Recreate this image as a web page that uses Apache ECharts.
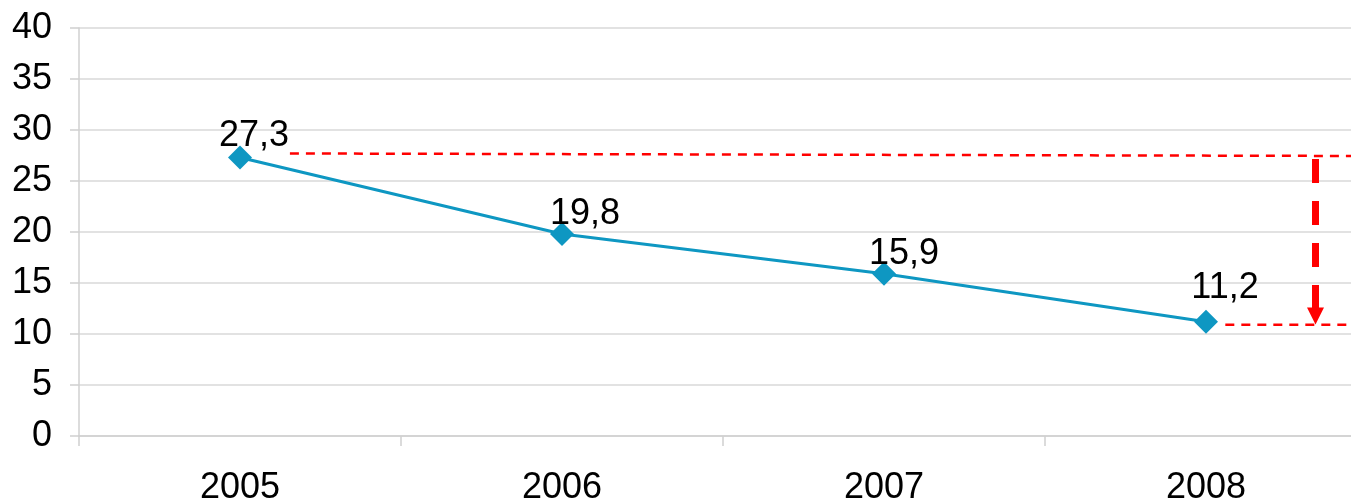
<!DOCTYPE html>
<html>
<head>
<meta charset="utf-8">
<script src="https://cdn.jsdelivr.net/npm/echarts@6/dist/echarts.min.js"></script>
<style>
html,body{margin:0;padding:0;background:#fff;overflow:hidden;}
#wrap{position:relative;width:1351px;height:501px;overflow:hidden;}
#c{position:absolute;left:0;top:0;width:1367px;height:501px;}
</style>
</head>
<body>
<div id="wrap"><div id="c"></div></div>
<script>
const categories = ['2005', '2006', '2007', '2008'];
const values = [27.3, 19.8, 15.9, 11.2];
const yTicks = { min: 0, max: 40, interval: 5 };
// annotation lines in category-index space (x) and value space (y)
const topDashed = [[0.155, 27.7], [3.5, 27.45]];
const bottomDashed = [[3.06, 10.9], [3.5, 10.9]];
const arrowLine = [[3.34, 27.16], [3.34, 11.76]];

const labelShiftX = [14, 23, 20, 19];
const labelShiftY = [11, 12, 12, -2];

const chart = echarts.init(document.getElementById('c'));
const font = 'Liberation Sans, Arial, sans-serif';
const red = '#ff0000';
const blue = '#0e97c2';
chart.setOption({
  animation: false,
  backgroundColor: '#ffffff',
  grid: { left: 79, right: 0, top: 28, bottom: 65, containLabel: false, outerBoundsMode: 'none' },
  xAxis: [{
    type: 'category',
    data: categories,
    boundaryGap: true,
    axisLine: { show: true, lineStyle: { color: '#d0d0d0', width: 1.5 } },
    axisTick: { show: true, length: 10, lineStyle: { color: '#d0d0d0', width: 1.5 } },
    axisLabel: { fontSize: 36, fontFamily: font, color: '#000', margin: 34 },
    splitLine: { show: false }
  }, {
    type: 'value',
    min: -0.5, max: 3.5,
    show: false
  }],
  yAxis: {
    type: 'value',
    min: yTicks.min, max: yTicks.max, interval: yTicks.interval,
    axisLine: { show: true, onZero: false, lineStyle: { color: '#d0d0d0', width: 1.5 } },
    axisTick: { show: true, length: 9, lineStyle: { color: '#d0d0d0', width: 1.5 } },
    axisLabel: { fontSize: 36, fontFamily: font, color: '#000', margin: 27 },
    splitLine: { show: true, lineStyle: { color: '#d9d9d9', width: 1.5 } }
  },
  series: [{
    type: 'line',
    data: values.map((v, i) => ({
      value: v,
      label: { offset: [labelShiftX[i], labelShiftY[i]] }
    })),
    xAxisIndex: 0,
    symbol: 'diamond',
    symbolSize: 24,
    lineStyle: { color: blue, width: 3 },
    itemStyle: { color: blue },
    label: {
      show: true, position: 'top', distance: 2,
      fontSize: 36, fontFamily: font, color: '#000',
      formatter: p => String(p.value).replace('.', ',')
    },
    z: 5
  }, {
    type: 'line', xAxisIndex: 1, data: topDashed, symbol: 'none',
    lineStyle: { color: red, width: 2.5, type: [9, 7] }, silent: true, z: 3
  }, {
    type: 'line', xAxisIndex: 1, data: bottomDashed, symbol: 'none',
    lineStyle: { color: red, width: 2.5, type: [9, 7] }, silent: true, z: 3
  }, {
    type: 'line', xAxisIndex: 1, data: arrowLine, symbol: 'none',
    lineStyle: { opacity: 0 }, silent: true, z: 4,
    markLine: {
      silent: true,
      symbol: ['none', 'triangle'],
      symbolSize: [17, 17],
      label: { show: false },
      lineStyle: { color: red, width: 7, type: [24, 18] },
      itemStyle: { color: red },
      data: [[{ coord: arrowLine[0] }, { coord: arrowLine[1] }]]
    }
  }]
});
</script>
</body>
</html>
